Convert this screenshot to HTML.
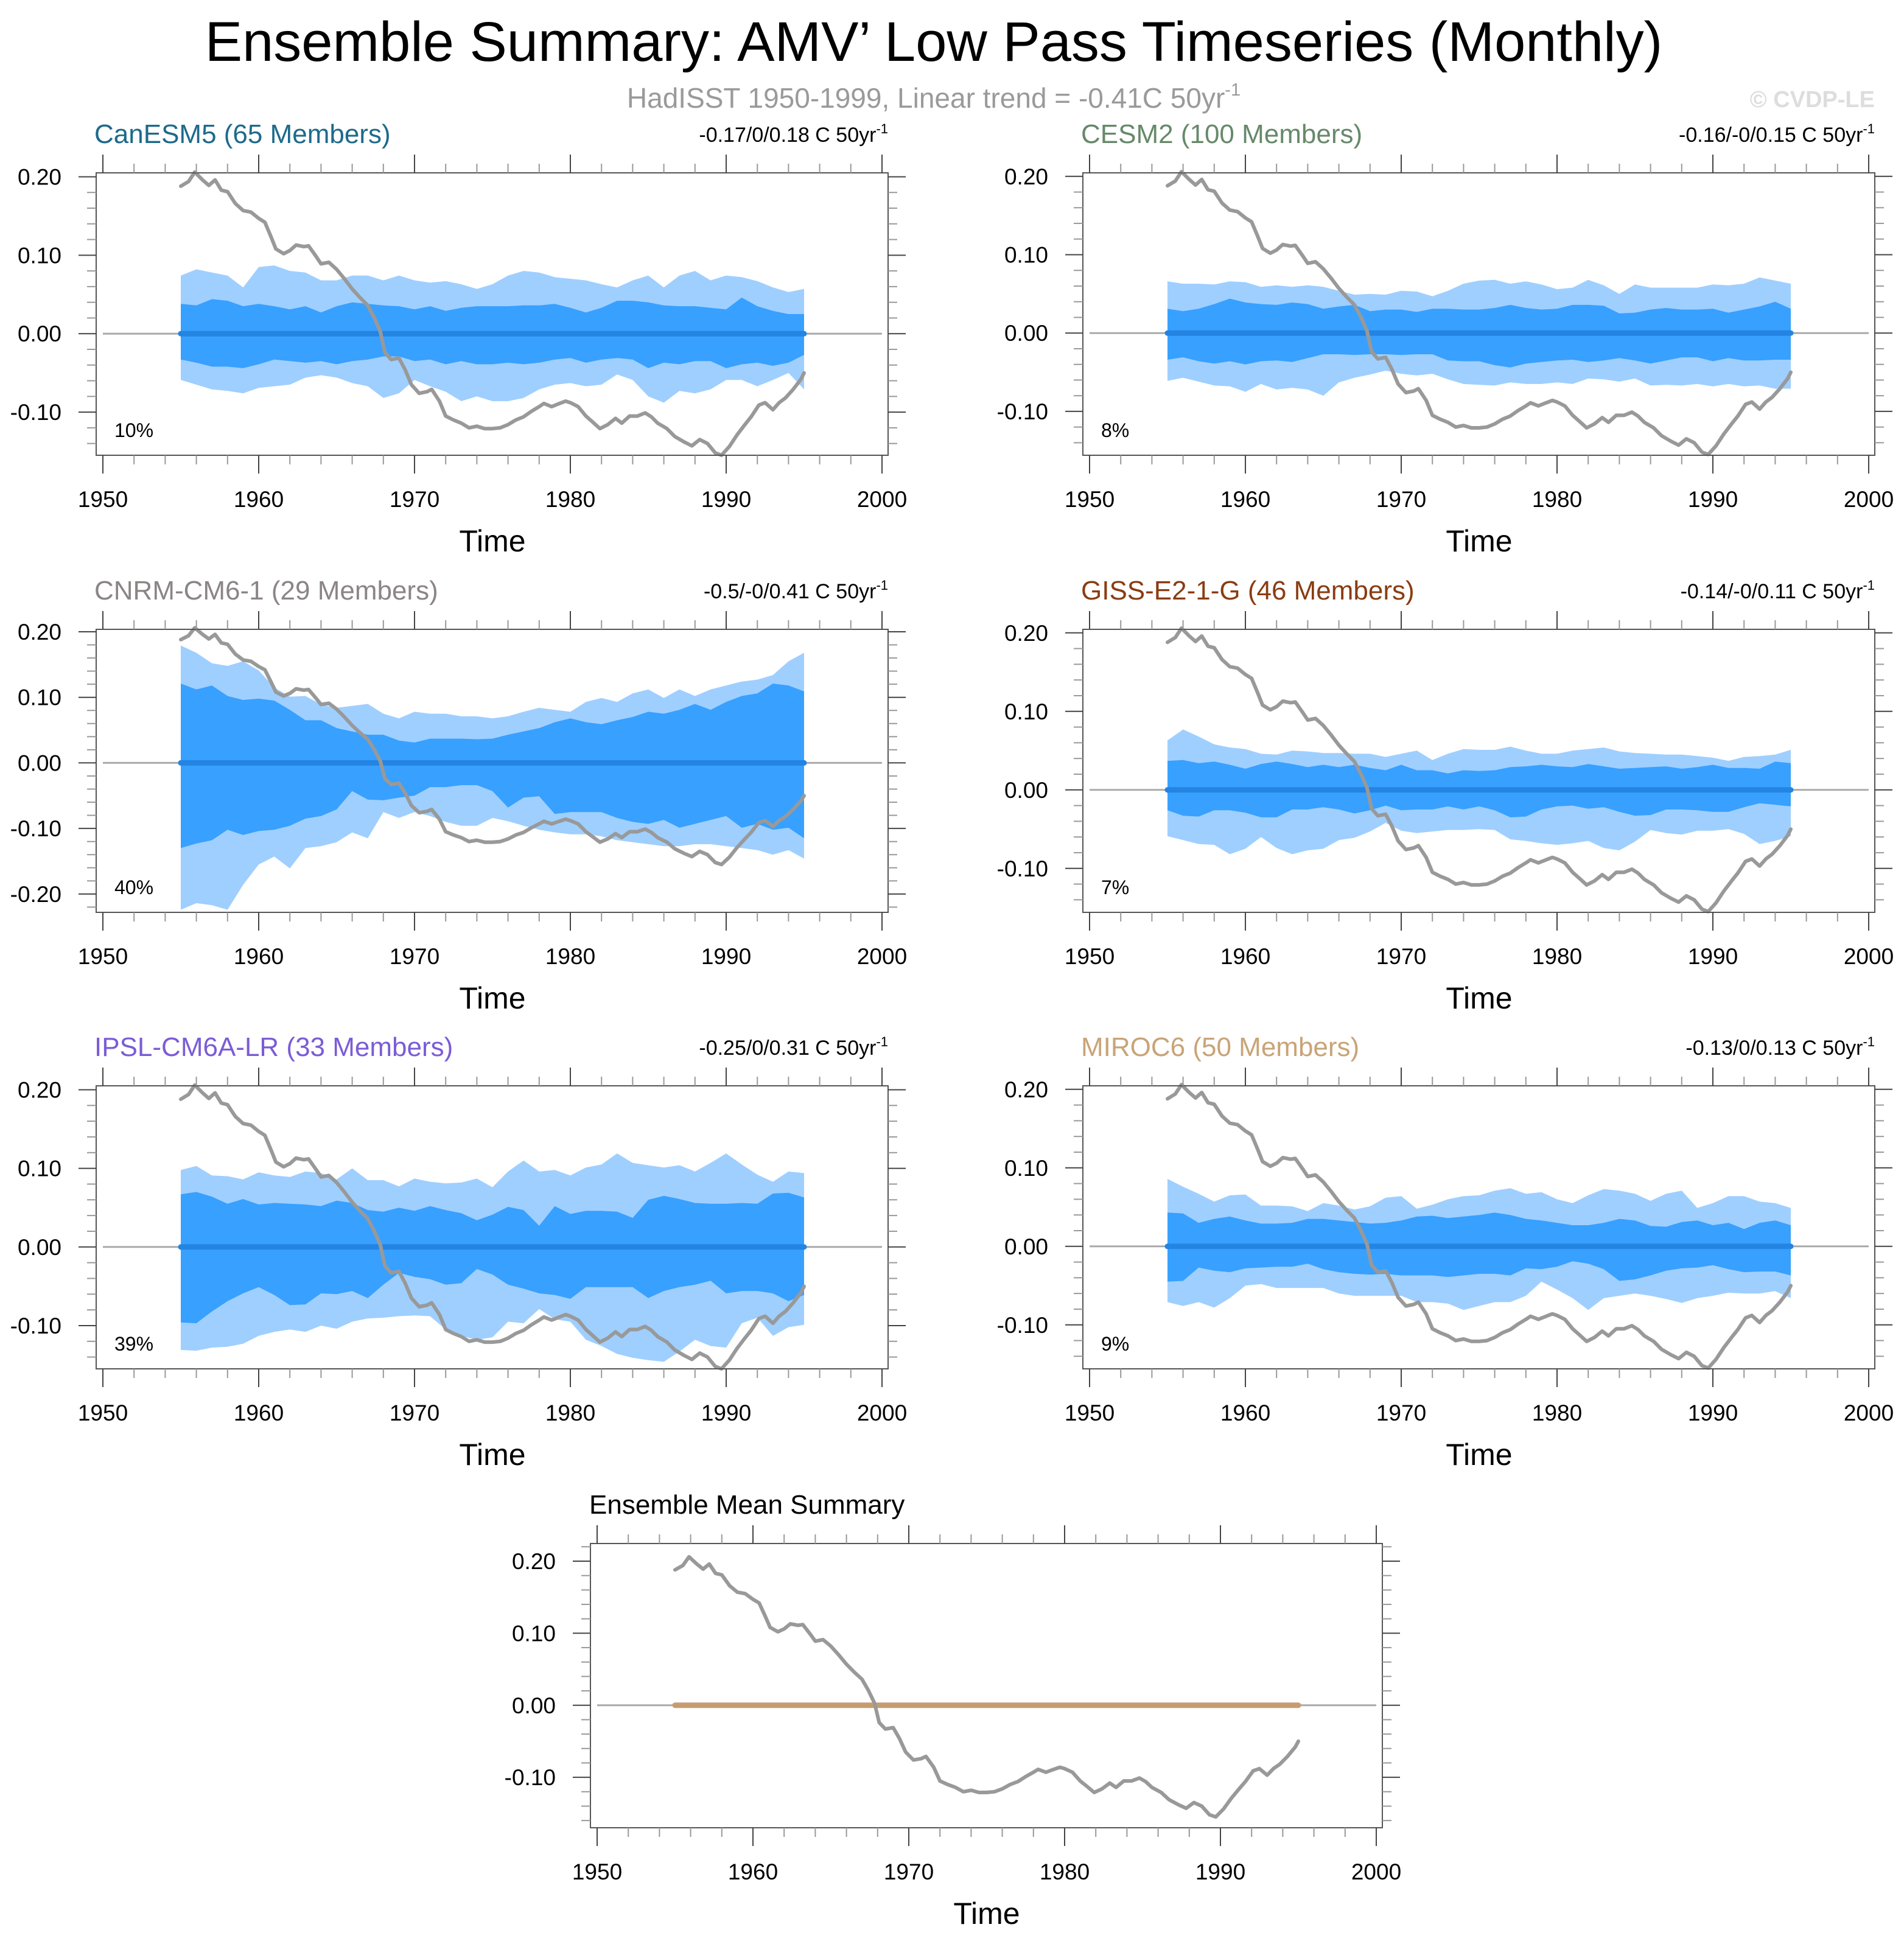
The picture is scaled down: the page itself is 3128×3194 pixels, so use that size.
<!DOCTYPE html>
<html><head><meta charset="utf-8"><title>Ensemble Summary AMV</title>
<style>
html,body{margin:0;padding:0;background:#fff;}
svg{display:block;font-family:"Liberation Sans",Arial,sans-serif;}
</style></head>
<body>
<svg id="fig" width="3128" height="3194" viewBox="0 0 3128 3194" xmlns="http://www.w3.org/2000/svg">
<rect x="0" y="0" width="3128" height="3194" fill="#fff"/>
<text x="1534" y="100" font-size="92" text-anchor="middle" fill="#000">Ensemble Summary: AMV’ Low Pass Timeseries (Monthly)</text>
<text x="1534" y="177" font-size="46" text-anchor="middle" fill="#9a9a9a">HadISST 1950-1999, Linear trend = -0.41C 50yr<tspan font-size="29" dy="-20">-1</tspan></text>
<text x="3080" y="176" font-size="38" font-weight="bold" text-anchor="end" fill="#dddddd">© CVDP-LE</text>
</svg>
<script>
// ---- data ----
const bandYears = [1955,1956,1957,1958,1959,1960,1961,1962,1963,1964,1965,1966,1967,1968,1969,1970,1971,1972,1973,1974,1975,1976,1977,1978,1979,1980,1981,1982,1983,1984,1985,1986,1987,1988,1989,1990,1991,1992,1993,1994,1995];
const obsYears = [1955.0,1955.5,1955.9,1956.4,1956.8,1957.2,1957.6,1958.0,1958.5,1959.0,1959.5,1960.0,1960.4,1960.8,1961.1,1961.6,1962.0,1962.4,1962.9,1963.2,1963.7,1964.0,1964.5,1965.0,1965.5,1966.0,1966.5,1967.0,1967.4,1967.8,1968.1,1968.5,1969.0,1969.4,1969.8,1970.3,1970.8,1971.1,1971.6,1972.0,1972.5,1973.0,1973.5,1974.0,1974.5,1975.0,1975.5,1976.0,1976.5,1977.0,1977.5,1978.0,1978.3,1978.8,1979.3,1979.7,1980.0,1980.5,1981.0,1981.4,1981.9,1982.4,1982.9,1983.3,1983.8,1984.3,1984.8,1985.2,1985.6,1986.2,1986.7,1987.3,1987.8,1988.3,1988.8,1989.3,1989.7,1990.2,1990.7,1991.2,1991.6,1992.1,1992.5,1993.0,1993.4,1993.8,1994.3,1994.8,1995.0];
const obsValues = [0.188,0.194,0.206,0.196,0.189,0.196,0.183,0.181,0.166,0.157,0.155,0.147,0.142,0.123,0.108,0.102,0.106,0.113,0.111,0.112,0.098,0.089,0.091,0.082,0.070,0.057,0.046,0.036,0.021,0.003,-0.024,-0.033,-0.031,-0.046,-0.065,-0.076,-0.074,-0.071,-0.086,-0.105,-0.110,-0.114,-0.120,-0.118,-0.121,-0.121,-0.120,-0.116,-0.110,-0.106,-0.099,-0.093,-0.089,-0.093,-0.089,-0.086,-0.088,-0.093,-0.105,-0.112,-0.121,-0.116,-0.108,-0.114,-0.105,-0.105,-0.101,-0.106,-0.114,-0.121,-0.131,-0.138,-0.143,-0.135,-0.140,-0.152,-0.155,-0.144,-0.129,-0.116,-0.106,-0.091,-0.088,-0.097,-0.088,-0.082,-0.071,-0.058,-0.050];

const canesmOuterHi = [0.074,0.082,0.078,0.074,0.059,0.085,0.087,0.080,0.078,0.068,0.068,0.074,0.074,0.068,0.074,0.068,0.065,0.067,0.063,0.057,0.063,0.074,0.080,0.078,0.072,0.070,0.068,0.063,0.059,0.068,0.074,0.059,0.074,0.080,0.068,0.074,0.072,0.067,0.059,0.053,0.057];
const canesmInnerHi = [0.038,0.036,0.044,0.042,0.035,0.038,0.035,0.031,0.035,0.027,0.035,0.040,0.038,0.036,0.035,0.031,0.035,0.029,0.033,0.035,0.035,0.035,0.036,0.036,0.038,0.033,0.027,0.033,0.042,0.042,0.040,0.036,0.035,0.035,0.033,0.031,0.046,0.035,0.029,0.025,0.025];
const canesmInnerLo = [-0.033,-0.037,-0.042,-0.042,-0.044,-0.039,-0.033,-0.035,-0.037,-0.035,-0.039,-0.035,-0.033,-0.029,-0.029,-0.035,-0.033,-0.039,-0.035,-0.039,-0.039,-0.037,-0.039,-0.037,-0.033,-0.031,-0.037,-0.033,-0.031,-0.033,-0.044,-0.037,-0.039,-0.035,-0.035,-0.044,-0.039,-0.037,-0.041,-0.037,-0.027];
const canesmOuterLo = [-0.059,-0.065,-0.071,-0.073,-0.076,-0.069,-0.067,-0.065,-0.056,-0.053,-0.056,-0.063,-0.067,-0.082,-0.076,-0.059,-0.067,-0.074,-0.086,-0.080,-0.086,-0.086,-0.082,-0.071,-0.065,-0.063,-0.067,-0.065,-0.052,-0.059,-0.080,-0.088,-0.073,-0.076,-0.071,-0.059,-0.059,-0.067,-0.059,-0.050,-0.071];

const cesmOuterHi = [0.066,0.063,0.063,0.062,0.066,0.065,0.059,0.061,0.059,0.061,0.059,0.054,0.049,0.050,0.049,0.054,0.053,0.047,0.054,0.063,0.067,0.068,0.063,0.066,0.062,0.056,0.058,0.068,0.061,0.050,0.062,0.058,0.058,0.058,0.058,0.062,0.061,0.063,0.071,0.067,0.063];
const cesmInnerHi = [0.031,0.028,0.031,0.037,0.044,0.039,0.037,0.036,0.039,0.037,0.031,0.034,0.036,0.028,0.030,0.030,0.027,0.031,0.031,0.030,0.030,0.032,0.036,0.032,0.030,0.031,0.036,0.036,0.035,0.025,0.026,0.030,0.032,0.030,0.030,0.031,0.026,0.030,0.034,0.040,0.031];
const cesmInnerLo = [-0.034,-0.031,-0.036,-0.039,-0.036,-0.040,-0.036,-0.035,-0.037,-0.032,-0.027,-0.027,-0.028,-0.027,-0.027,-0.028,-0.027,-0.027,-0.035,-0.036,-0.036,-0.041,-0.044,-0.039,-0.037,-0.035,-0.034,-0.037,-0.035,-0.032,-0.035,-0.039,-0.035,-0.031,-0.031,-0.036,-0.032,-0.035,-0.035,-0.034,-0.034];
const cesmOuterLo = [-0.061,-0.057,-0.062,-0.067,-0.068,-0.075,-0.065,-0.072,-0.070,-0.072,-0.080,-0.063,-0.057,-0.053,-0.048,-0.052,-0.054,-0.052,-0.059,-0.065,-0.066,-0.067,-0.063,-0.065,-0.065,-0.063,-0.065,-0.058,-0.059,-0.062,-0.058,-0.067,-0.066,-0.067,-0.065,-0.068,-0.065,-0.068,-0.067,-0.071,-0.071];

const cnrmOuterHi = [0.179,0.168,0.152,0.148,0.155,0.141,0.115,0.101,0.102,0.089,0.084,0.087,0.090,0.075,0.068,0.078,0.075,0.075,0.071,0.071,0.068,0.071,0.078,0.084,0.081,0.078,0.093,0.099,0.093,0.106,0.112,0.099,0.112,0.102,0.112,0.118,0.124,0.127,0.134,0.155,0.168];
const cnrmInnerHi = [0.121,0.112,0.118,0.102,0.096,0.098,0.095,0.081,0.065,0.065,0.053,0.048,0.043,0.043,0.034,0.031,0.037,0.037,0.037,0.036,0.037,0.043,0.048,0.053,0.062,0.068,0.062,0.059,0.065,0.070,0.078,0.075,0.081,0.090,0.081,0.093,0.102,0.106,0.121,0.118,0.109];
const cnrmInnerLo = [-0.130,-0.123,-0.118,-0.102,-0.110,-0.104,-0.102,-0.096,-0.085,-0.081,-0.071,-0.043,-0.056,-0.057,-0.053,-0.050,-0.037,-0.037,-0.034,-0.034,-0.043,-0.068,-0.053,-0.051,-0.078,-0.075,-0.075,-0.075,-0.084,-0.090,-0.093,-0.087,-0.099,-0.093,-0.087,-0.081,-0.099,-0.093,-0.102,-0.099,-0.115];
const cnrmOuterLo = [-0.224,-0.214,-0.217,-0.224,-0.186,-0.155,-0.143,-0.161,-0.130,-0.127,-0.121,-0.106,-0.115,-0.075,-0.084,-0.075,-0.081,-0.090,-0.096,-0.096,-0.084,-0.089,-0.096,-0.102,-0.106,-0.109,-0.109,-0.112,-0.118,-0.121,-0.124,-0.127,-0.127,-0.124,-0.124,-0.127,-0.130,-0.133,-0.140,-0.133,-0.146];

const gissOuterHi = [0.063,0.077,0.068,0.058,0.054,0.052,0.046,0.045,0.050,0.049,0.047,0.047,0.046,0.046,0.042,0.046,0.050,0.038,0.046,0.052,0.051,0.051,0.055,0.050,0.046,0.046,0.050,0.052,0.054,0.049,0.047,0.046,0.045,0.045,0.043,0.041,0.037,0.042,0.043,0.045,0.051];
const gissInnerHi = [0.037,0.038,0.034,0.036,0.032,0.027,0.033,0.036,0.033,0.029,0.032,0.029,0.032,0.028,0.025,0.032,0.025,0.025,0.021,0.025,0.024,0.025,0.029,0.030,0.032,0.030,0.029,0.033,0.030,0.027,0.028,0.029,0.030,0.027,0.029,0.032,0.028,0.028,0.027,0.036,0.034];
const gissInnerLo = [-0.026,-0.033,-0.034,-0.026,-0.026,-0.029,-0.035,-0.035,-0.025,-0.025,-0.022,-0.025,-0.030,-0.026,-0.020,-0.026,-0.025,-0.025,-0.021,-0.025,-0.021,-0.026,-0.035,-0.034,-0.025,-0.021,-0.020,-0.024,-0.022,-0.028,-0.033,-0.032,-0.025,-0.025,-0.026,-0.028,-0.028,-0.022,-0.017,-0.019,-0.021];
const gissOuterLo = [-0.059,-0.064,-0.069,-0.070,-0.082,-0.075,-0.060,-0.074,-0.082,-0.077,-0.075,-0.064,-0.061,-0.053,-0.042,-0.052,-0.055,-0.053,-0.051,-0.051,-0.050,-0.051,-0.063,-0.065,-0.068,-0.070,-0.068,-0.065,-0.074,-0.077,-0.066,-0.051,-0.055,-0.057,-0.052,-0.052,-0.050,-0.056,-0.069,-0.065,-0.059];

const ipslOuterHi = [0.098,0.103,0.091,0.090,0.086,0.095,0.091,0.089,0.096,0.094,0.086,0.100,0.085,0.085,0.077,0.087,0.083,0.081,0.082,0.087,0.076,0.096,0.110,0.096,0.098,0.091,0.101,0.105,0.119,0.107,0.104,0.101,0.104,0.096,0.107,0.119,0.105,0.092,0.083,0.096,0.094];
const ipslInnerHi = [0.067,0.070,0.064,0.055,0.061,0.054,0.056,0.055,0.054,0.052,0.059,0.056,0.047,0.045,0.050,0.046,0.052,0.047,0.043,0.034,0.041,0.051,0.047,0.027,0.052,0.042,0.046,0.046,0.045,0.037,0.060,0.065,0.061,0.056,0.055,0.055,0.056,0.055,0.068,0.069,0.063];
const ipslInnerLo = [-0.096,-0.097,-0.082,-0.069,-0.059,-0.051,-0.061,-0.074,-0.073,-0.059,-0.060,-0.056,-0.065,-0.048,-0.033,-0.038,-0.041,-0.048,-0.046,-0.028,-0.035,-0.048,-0.053,-0.059,-0.061,-0.066,-0.051,-0.051,-0.051,-0.051,-0.065,-0.056,-0.051,-0.048,-0.043,-0.059,-0.056,-0.056,-0.059,-0.069,-0.061];
const ipslOuterLo = [-0.131,-0.132,-0.128,-0.127,-0.123,-0.113,-0.108,-0.105,-0.108,-0.100,-0.104,-0.095,-0.091,-0.090,-0.088,-0.087,-0.088,-0.105,-0.113,-0.118,-0.115,-0.095,-0.097,-0.079,-0.092,-0.095,-0.118,-0.126,-0.136,-0.141,-0.144,-0.146,-0.133,-0.118,-0.126,-0.128,-0.097,-0.090,-0.113,-0.102,-0.099];

const mirocOuterHi = [0.086,0.076,0.067,0.057,0.065,0.066,0.052,0.052,0.051,0.045,0.055,0.052,0.047,0.051,0.062,0.064,0.048,0.053,0.060,0.064,0.065,0.071,0.074,0.067,0.069,0.060,0.055,0.065,0.073,0.071,0.067,0.058,0.067,0.071,0.049,0.055,0.064,0.064,0.057,0.055,0.049];
const mirocInnerHi = [0.043,0.042,0.030,0.035,0.038,0.033,0.029,0.029,0.030,0.035,0.035,0.033,0.031,0.029,0.030,0.033,0.038,0.039,0.036,0.038,0.040,0.043,0.040,0.035,0.033,0.030,0.027,0.027,0.030,0.035,0.033,0.026,0.025,0.031,0.033,0.027,0.030,0.022,0.030,0.033,0.027];
const mirocInnerLo = [-0.045,-0.044,-0.027,-0.031,-0.033,-0.028,-0.027,-0.026,-0.026,-0.022,-0.029,-0.033,-0.035,-0.036,-0.035,-0.037,-0.037,-0.037,-0.039,-0.037,-0.035,-0.035,-0.037,-0.028,-0.029,-0.026,-0.019,-0.022,-0.029,-0.044,-0.042,-0.037,-0.031,-0.028,-0.027,-0.024,-0.029,-0.033,-0.032,-0.032,-0.037];
const mirocOuterLo = [-0.071,-0.076,-0.071,-0.078,-0.066,-0.050,-0.048,-0.053,-0.053,-0.053,-0.053,-0.060,-0.063,-0.063,-0.063,-0.063,-0.071,-0.071,-0.073,-0.081,-0.076,-0.071,-0.071,-0.063,-0.045,-0.055,-0.066,-0.081,-0.066,-0.063,-0.060,-0.063,-0.067,-0.072,-0.066,-0.063,-0.059,-0.060,-0.060,-0.057,-0.066];

const ensembleMean = [0,0,0,0,0,0,0,0,0,0,0,0,0,0,0,0,0,0,0,0,0,0,0,0,0,0,0,0,0,0,0,0,0,0,0,0,0,0,0,0,0];

const xTickLabels = [1950,1960,1970,1980,1990,2000];
const yTickLabels = ["-0.20","-0.10","0.00","0.10","0.20"];
const yTickValues = [-0.2,-0.1,0,0.1,0.2];

// ---- layout ----
const NS = "http://www.w3.org/2000/svg";
const svg = document.getElementById("fig");
function mk(tag, attrs, parent){
  const e = document.createElementNS(NS, tag);
  for (const k in attrs) e.setAttribute(k, attrs[k]);
  (parent||svg).appendChild(e);
  return e;
}
const L = {box:[158,1459], xr:[169,1449]};
const R = {box:[1779,3080], xr:[1790,3070]};
const rows = [[284,748],[1034,1499],[1784,2249]];
const panels = [
  {id:"canesm5", title:"CanESM5 (65 Members)", color:"#1d6a8c", trend:"-0.17/0/0.18 C 50yr", pct:"10%", col:L, row:rows[0], yd:[-0.155,0.205], oh:canesmOuterHi, ih:canesmInnerHi, il:canesmInnerLo, ol:canesmOuterLo},
  {id:"cesm2", title:"CESM2 (100 Members)", color:"#67896a", trend:"-0.16/-0/0.15 C 50yr", pct:"8%", col:R, row:rows[0], yd:[-0.156,0.2045], oh:cesmOuterHi, ih:cesmInnerHi, il:cesmInnerLo, ol:cesmOuterLo},
  {id:"cnrm-cm6-1", title:"CNRM-CM6-1 (29 Members)", color:"#8b8585", trend:"-0.5/-0/0.41 C 50yr", pct:"40%", col:L, row:rows[1], yd:[-0.228,0.2037], oh:cnrmOuterHi, ih:cnrmInnerHi, il:cnrmInnerLo, ol:cnrmOuterLo},
  {id:"giss-e2-1-g", title:"GISS-E2-1-G (46 Members)", color:"#8a3c12", trend:"-0.14/-0/0.11 C 50yr", pct:"7%", col:R, row:rows[1], yd:[-0.156,0.2045], oh:gissOuterHi, ih:gissInnerHi, il:gissInnerLo, ol:gissOuterLo},
  {id:"ipsl-cm6a-lr", title:"IPSL-CM6A-LR (33 Members)", color:"#7b5cd6", trend:"-0.25/0/0.31 C 50yr", pct:"39%", col:L, row:rows[2], yd:[-0.155,0.205], oh:ipslOuterHi, ih:ipslInnerHi, il:ipslInnerLo, ol:ipslOuterLo},
  {id:"miroc6", title:"MIROC6 (50 Members)", color:"#c9a477", trend:"-0.13/0/0.13 C 50yr", pct:"9%", col:R, row:rows[2], yd:[-0.156,0.2045], oh:mirocOuterHi, ih:mirocInnerHi, il:mirocInnerLo, ol:mirocOuterLo},
  {id:"ensemble-mean", title:"Ensemble Mean Summary", color:"#000", trend:null, pct:null, col:{box:[970,2271], xr:[981,2261]}, row:[2536,3003], yd:[-0.170,0.2245], mean:ensembleMean}
];

function areaPath(xs, hi, lo, sx, sy){
  let d = "";
  for (let i=0;i<xs.length;i++) d += (i?"L":"M")+sx(xs[i]).toFixed(1)+","+sy(hi[i]).toFixed(1);
  for (let i=xs.length-1;i>=0;i--) d += "L"+sx(xs[i]).toFixed(1)+","+sy(lo[i]).toFixed(1);
  return d+"Z";
}
function linePath(xs, ys, sx, sy){
  let d = "";
  for (let i=0;i<xs.length;i++) d += (i?"L":"M")+sx(xs[i]).toFixed(1)+","+sy(ys[i]).toFixed(1);
  return d;
}

panels.forEach(p => {
  const [bl, br] = p.col.box, [bt, bb] = p.row;
  const [x0, x1] = p.col.xr;
  const [ymin, ymax] = p.yd;
  const sx = yr => x0 + (yr-1950)/(2000-1950)*(x1-x0);
  const sy = v => bb - (v-ymin)/(ymax-ymin)*(bb-bt);
  const g = mk("g", {});
  
  

  const t = mk("text", {x: p.trend ? bl-3 : bl-2, y: bt-49, "font-size":44, fill:p.color}, g);
  t.textContent = p.title;
  
  
  if (p.trend){
    const tr = mk("text", {x: br, y: bt-51, "font-size":34, fill:"#000", "text-anchor":"end"}, g);
    tr.textContent = p.trend;
    const sup = mk("tspan", {"font-size":22, dy:-14}, tr);
    sup.textContent = "-1";
    
    
  }

  const z = mk("line", {x1: sx(1950), x2: sx(2000), y1: sy(0), y2: sy(0), stroke:"#aaaaaa", "stroke-width":3}, g);
  
  

  if (p.oh){
    const o = mk("path", {d: areaPath(bandYears, p.oh, p.ol, sx, sy), fill:"#9fcfff"}, g);
    
    
    const inr = mk("path", {d: areaPath(bandYears, p.ih, p.il, sx, sy), fill:"#38a0ff"}, g);
    
    
    const m = mk("line", {x1: sx(bandYears[0]), x2: sx(bandYears[bandYears.length-1]), y1: sy(0), y2: sy(0), stroke:"#2484e2", "stroke-width":9, "stroke-linecap":"round"}, g);
    
    
  }
  if (p.mean){
    const m = mk("path", {d: linePath(bandYears, p.mean, sx, sy), fill:"none", stroke:"#c79c70", "stroke-width":9, "stroke-linecap":"round"}, g);
    
    
  }
  const ob = mk("path", {d: linePath(obsYears, obsValues, sx, sy), fill:"none", stroke:"#999999", "stroke-width":6, "stroke-linejoin":"round", "stroke-linecap":"round"}, g);
  
  

  const f = mk("rect", {x: bl, y: bt, width: br-bl, height: bb-bt, fill:"none", stroke:"#555", "stroke-width":2}, g);
  
  

  for (let yr=1950; yr<=2000; yr+=2){
    const major = (yr%10===0);
    const len = major?30:15;
    const c = major?"#444":"#999";
    mk("line", {x1:sx(yr), x2:sx(yr), y1:bb, y2:bb+len, stroke:c, "stroke-width":2}, g);
    mk("line", {x1:sx(yr), x2:sx(yr), y1:bt, y2:bt-len, stroke:c, "stroke-width":2}, g);
  }
  xTickLabels.forEach(yr => {
    const tl = mk("text", {x:sx(yr), y:bb+85, "font-size":37, "text-anchor":"middle", fill:"#000"}, g);
    tl.textContent = String(yr);
    
    
  });
  const xt = mk("text", {x:(sx(1950)+sx(2000))/2, y:bb+158, "font-size":50, "text-anchor":"middle", fill:"#000"}, g);
  xt.textContent = "Time";
  
  

  for (let k=Math.ceil(ymin*50); k<=Math.floor(ymax*50); k++){
    const v = k/50, major = (k%5===0);
    const len = major?29:15;
    const c = major?"#444":"#999";
    mk("line", {x1:bl, x2:bl-len, y1:sy(v), y2:sy(v), stroke:c, "stroke-width":2}, g);
    mk("line", {x1:br, x2:br+len, y1:sy(v), y2:sy(v), stroke:c, "stroke-width":2}, g);
  }
  yTickValues.forEach((v,i) => {
    if (v < ymin || v > ymax) return;
    const yl = mk("text", {x:bl-57, y:sy(v)+13, "font-size":37, "text-anchor":"end", fill:"#000"}, g);
    yl.textContent = yTickLabels[i];
    
    
  });

  if (p.pct){
    const pc = mk("text", {x:bl+30, y:bb-30, "font-size":32, fill:"#000"}, g);
    pc.textContent = p.pct;
    
    
  }
});
</script>
</body></html>
